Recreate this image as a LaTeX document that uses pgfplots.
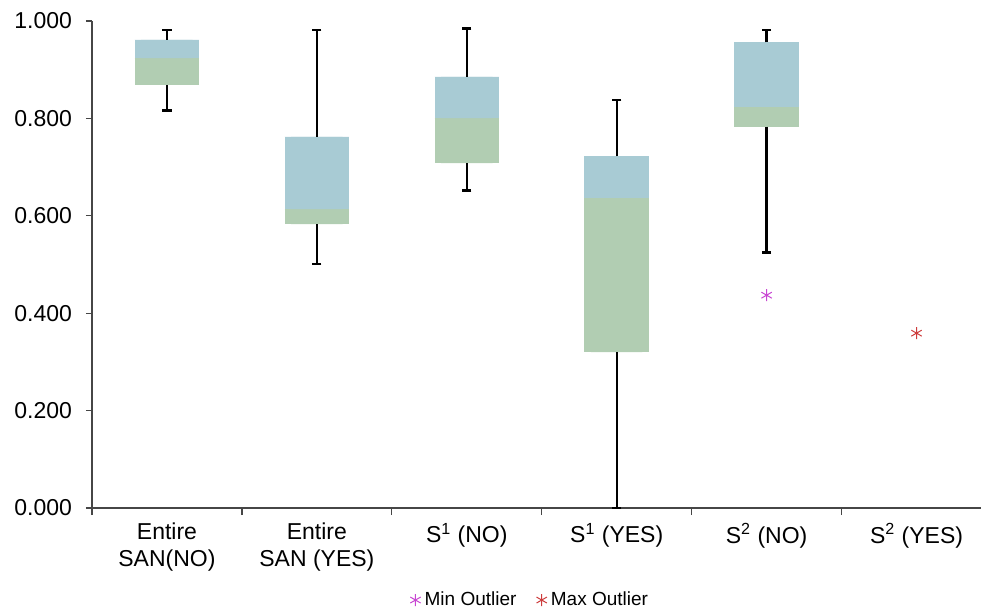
\documentclass[border=0pt]{standalone}
\usepackage{pgfplots}
\pgfplotsset{compat=1.18}
\usepgfplotslibrary{statistics}
\usepackage{fontspec}
\setmainfont{Liberation Sans}
\definecolor{boxblue}{RGB}{168,203,212}
\definecolor{boxgreen}{RGB}{177,205,178}
\definecolor{minout}{RGB}{200,70,210}
\definecolor{maxout}{RGB}{205,60,60}
\definecolor{axisgray}{RGB}{70,70,70}
\pgfplotsset{
  whisk/.style={forget plot, black, line width=1.2pt, mark=-, mark indices={2}, mark size=2.3pt, mark options={solid, line width=1.2pt}},
  lowbox/.style={forget plot, fill=boxgreen, draw=none,
    boxplot/every box/.style={draw=none, fill=boxgreen},
    boxplot/every median/.style={draw=none},
    boxplot/every whisker/.style={draw=none}},
  upbox/.style={forget plot, fill=boxblue, draw=none,
    boxplot/every box/.style={draw=none, fill=boxblue},
    boxplot/every median/.style={draw=none},
    boxplot/every whisker/.style={draw=none}},
}
\begin{document}
\begin{tikzpicture}
\useasboundingbox (-46pt,-52pt) rectangle (444.5pt,254pt);
\begin{axis}[
  at={(0,0)}, anchor=south west,
  scale only axis, width=444.5pt, height=243.5pt,
  xmin=-0.5, xmax=5.43, ymin=0, ymax=1,
  boxplot/draw direction=y,
  axis x line=bottom, axis y line=left,
  axis line style={-, draw=axisgray, line width=0.6pt},
  ytick={0,0.2,0.4,0.6,0.8,1},
  yticklabel style={xshift=-3.5pt, /pgf/number format/.cd, fixed, fixed zerofill, precision=3, assume math mode=true},
  tick align=outside, major tick length=3pt, minor tick length=3.5pt,
  ytick style={draw=axisgray, line width=0.6pt},
  xtick={0,1,2,3,4,5},
  xticklabels={{Entire\\SAN(NO)},{Entire\\SAN (YES)},{S\textsuperscript{1} (NO)},{S\textsuperscript{1} (YES)},{S\textsuperscript{2} (NO)},{S\textsuperscript{2} (YES)}},
  major x tick style={draw=none},
  minor xtick={-0.5,0.5,1.5,2.5,3.5,4.5},
  minor x tick style={draw=axisgray, line width=0.6pt},
  xticklabel style={align=center, anchor=north, yshift=-1pt},
  tick label style={font=\fontsize{11.5}{13.5}\selectfont},
  clip=false,
  legend style={at={(0.494,-0.189)}, anchor=center, draw=none, legend columns=2,
    font=\fontsize{9.5}{11}\selectfont,
    /tikz/every even column/.append style={column sep=8pt}},
  legend cell align=left,
]
% lower part of boxes (Q1 -> median), green
\addplot[lowbox, boxplot prepared={draw position=0, lower whisker=0.869, lower quartile=0.869, median=0.923, upper quartile=0.923, upper whisker=0.923, box extend=0.43}] coordinates {};
\addplot[lowbox, boxplot prepared={draw position=1, lower whisker=0.583, lower quartile=0.583, median=0.613, upper quartile=0.613, upper whisker=0.613, box extend=0.43}] coordinates {};
\addplot[lowbox, boxplot prepared={draw position=2, lower whisker=0.708, lower quartile=0.708, median=0.800, upper quartile=0.800, upper whisker=0.800, box extend=0.43}] coordinates {};
\addplot[lowbox, boxplot prepared={draw position=3, lower whisker=0.320, lower quartile=0.320, median=0.637, upper quartile=0.637, upper whisker=0.637, box extend=0.43}] coordinates {};
\addplot[lowbox, boxplot prepared={draw position=4, lower whisker=0.783, lower quartile=0.783, median=0.824, upper quartile=0.824, upper whisker=0.824, box extend=0.43}] coordinates {};
% upper part of boxes (median -> Q3), blue
\addplot[upbox, boxplot prepared={draw position=0, lower whisker=0.923, lower quartile=0.923, median=0.961, upper quartile=0.961, upper whisker=0.961, box extend=0.43}] coordinates {};
\addplot[upbox, boxplot prepared={draw position=1, lower whisker=0.613, lower quartile=0.613, median=0.762, upper quartile=0.762, upper whisker=0.762, box extend=0.43}] coordinates {};
\addplot[upbox, boxplot prepared={draw position=2, lower whisker=0.800, lower quartile=0.800, median=0.886, upper quartile=0.886, upper whisker=0.886, box extend=0.43}] coordinates {};
\addplot[upbox, boxplot prepared={draw position=3, lower whisker=0.637, lower quartile=0.637, median=0.722, upper quartile=0.722, upper whisker=0.722, box extend=0.43}] coordinates {};
\addplot[upbox, boxplot prepared={draw position=4, lower whisker=0.824, lower quartile=0.824, median=0.956, upper quartile=0.956, upper whisker=0.956, box extend=0.43}] coordinates {};
% whiskers (box edge -> whisker end, cap at end)
\addplot[whisk] coordinates {(0,0.961) (0,0.982)};
\addplot[whisk] coordinates {(0,0.869) (0,0.816)};
\addplot[whisk] coordinates {(1,0.762) (1,0.982)};
\addplot[whisk] coordinates {(1,0.583) (1,0.501)};
\addplot[whisk] coordinates {(2,0.886) (2,0.985)};
\addplot[whisk] coordinates {(2,0.708) (2,0.652)};
\addplot[whisk] coordinates {(3,0.722) (3,0.838)};
\addplot[whisk] coordinates {(3,0.320) (3,0.000)};
\addplot[whisk] coordinates {(4,0.956) (4,0.982)};
\addplot[whisk] coordinates {(4,0.783) (4,0.525)};
% outliers
\addplot[only marks, mark=asterisk, mark size=3pt, color=minout, mark options={line width=0.5pt}] coordinates {(4,0.437)};
\addlegendentry{Min Outlier}
\addplot[only marks, mark=asterisk, mark size=3pt, color=maxout, mark options={line width=0.5pt}] coordinates {(5,0.359)};
\addlegendentry{Max Outlier}
\end{axis}
\end{tikzpicture}
\end{document}
